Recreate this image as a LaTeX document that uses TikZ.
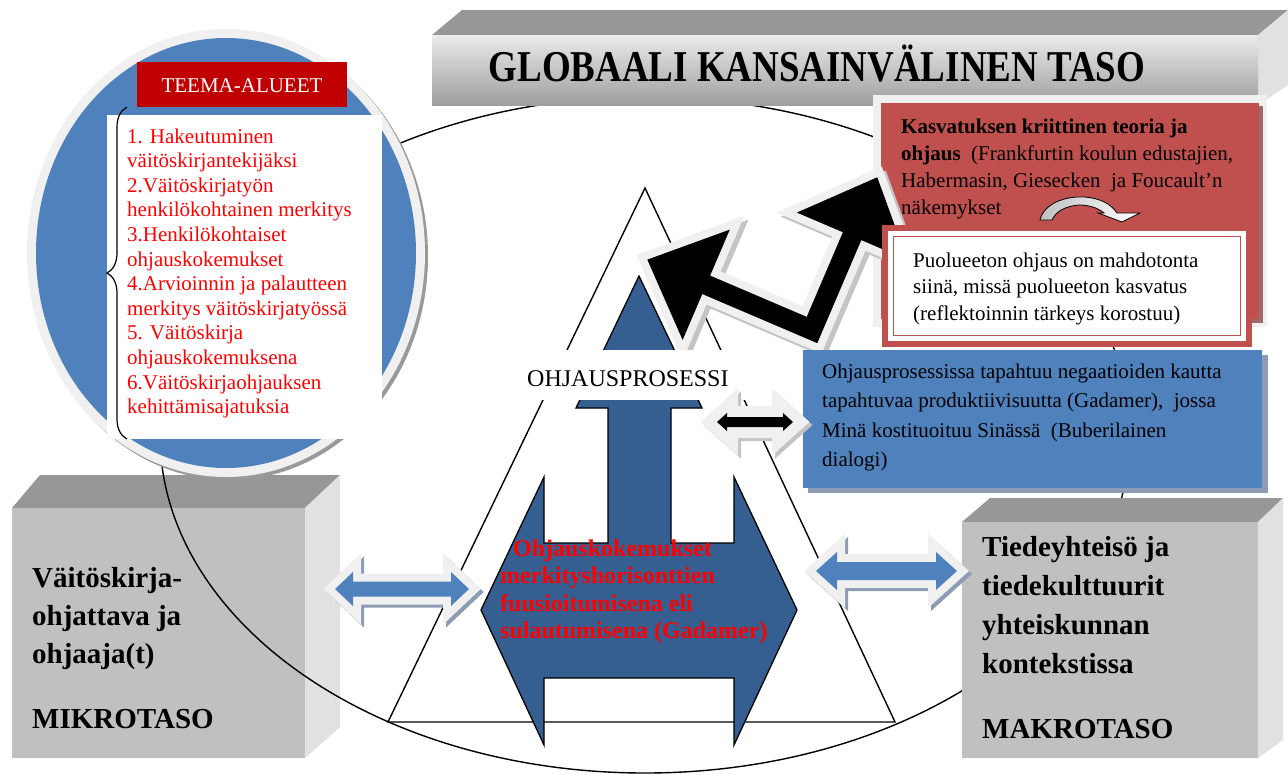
\documentclass[tikz,border=0pt]{standalone}
\usepackage{fontspec}
\usepackage{graphicx}
\setmainfont{Liberation Serif}
\usetikzlibrary{decorations.pathreplacing}
\definecolor{cblue}{HTML}{4F81BD}
\definecolor{cdblue}{HTML}{365F91}
\definecolor{cred}{HTML}{C0504D}
\definecolor{tred}{HTML}{C00000}
\definecolor{ring}{HTML}{F0F0F0}
\definecolor{bshadow}{HTML}{8D9BB3}
\definecolor{gshadow}{HTML}{C4C4C4}
\definecolor{gfront}{HTML}{C0C0C0}
\definecolor{gtop}{HTML}{979797}
\definecolor{gside}{HTML}{E1E1E1}
\definecolor{txtred}{HTML}{FF0000}
\definecolor{rshadow}{HTML}{9B6A69}
\newcommand{\fs}[2]{\fontsize{#1}{#2}\selectfont}
% double arrow path: cx cy halflength headlength headhalf shafthalf
\newcommand{\dblpath}[6]{(#1-#3,#2) -- (#1-#3+#4,#2-#5) -- (#1-#3+#4,#2-#6) -- (#1+#3-#4,#2-#6) -- (#1+#3-#4,#2-#5) -- (#1+#3,#2) -- (#1+#3-#4,#2+#5) -- (#1+#3-#4,#2+#6) -- (#1-#3+#4,#2+#6) -- (#1-#3+#4,#2+#5) -- cycle}
\newcommand{\bentpath}{(-10,-10) -- (115,-10) -- (115,-60) -- (179,0) -- (115,60) -- (115,10) -- (10,10) -- (10,102) -- (60,102) -- (0,166) -- (-60,102) -- (-10,102) -- cycle}
\tikzset{
  txt/.style={anchor=base west, inner sep=0pt, align=left},
  outl/.style={draw=ring, line width=16pt, line join=miter},
  outsh/.style={draw=bshadow, line width=16pt, line join=miter},
}
\begin{document}
\begin{tikzpicture}[x=1pt,y=-1pt]
\useasboundingbox[fill=white] (0,0) rectangle (1288,774);

% left grey box (micro level)
\fill[gtop] (12,508) -- (40,475) -- (340,475) -- (305,508) -- cycle;
\fill[gside] (305,508) -- (340,475) -- (340,727) -- (305,758) -- cycle;
\fill[gfront] (12,508) rectangle (305,758);
\node[txt, font=\bfseries\fs{29}{38}] (mikro) at (32,663) {Väitöskirja-\\ohjattava ja\\ohjaaja(t)};
\node[txt, font=\bfseries\fs{29}{38}] (mikrot) at (32,728) {MIKROTASO};

% big ellipse
\draw[line width=1.4pt] (645,435) ellipse [x radius=485, y radius=338];

% right grey box (macro level)
\fill[gtop] (962,522) -- (990,498) -- (1283,498) -- (1258,522) -- cycle;
\fill[gside] (1258,522) -- (1283,498) -- (1283,740) -- (1258,758) -- cycle;
\fill[gfront] (962,522) rectangle (1258,758);
\node[txt, font=\bfseries\fs{29}{38.7}] (makro) at (982,673) {Tiedeyhteisö ja\\tiedekulttuurit\\yhteiskunnan\\kontekstissa};
\node[txt, font=\bfseries\fs{29}{38}] (makrot) at (982,738) {MAKROTASO};

% banner
\fill[gtop] (432,35) -- (462,10) -- (1288,10) -- (1258,35) -- cycle;
\fill[gside] (1258,35) -- (1288,10) -- (1288,85) -- (1258,105) -- cycle;
\shade[top color=white!92!black, middle color=white, bottom color=black!38] (432,35) rectangle (1258,105);
\node[anchor=base, inner sep=0pt, font=\bfseries\fs{44}{44}] (title) at (817,81) {\scalebox{0.84}[1]{GLOBAALI KANSAINVÄLINEN TASO}};

% triangle
\draw[line width=1.4pt, fill=white] (645,188) -- (895,722) -- (388,722) -- cycle;

% central blue shape
\filldraw[fill=cdblue, draw=black, line width=1.3pt] (639,276) -- (702,408) -- (671,408) -- (671,543) -- (734,543) -- (734,477) -- (797,610) -- (734,745) -- (734,678) -- (544,678) -- (544,745) -- (481,610) -- (544,477) -- (544,543) -- (608,543) -- (608,408) -- (576,408) -- cycle;
\node[txt, font=\bfseries\fs{24}{27.5}, text=txtred] (fusion) at (500,638.5) {\hspace*{13pt}Ohjauskokemukset\\merkityshorisonttien\\fuusioitumisena eli\\sulautumisena (Gadamer)};

% left circle
\fill[black!40] (229,256) ellipse [x radius=199, y radius=224];
\fill[ring] (226,253) ellipse [x radius=199, y radius=224];
\fill[cblue] (226,253) ellipse [x radius=190, y radius=215];
\node[fill=tred, minimum width=210pt, minimum height=45pt, inner sep=0pt, anchor=north west] (teema) at (137,62) {};
\node[anchor=base, inner sep=0pt, text=white, font=\fs{21}{24}] (teemat) at (242,92) {TEEMA-ALUEET};
\fill[white] (107,115) rectangle (382,439);
\draw[line width=1.2pt, decorate, decoration={brace, amplitude=20pt}] (127,439) -- (127,107);
\node[txt, font=\fs{21}{24.6}, text=txtred] (list) at (127,413.6) {1. Hakeutuminen\\väitöskirjantekijäksi\\2.Väitöskirjatyön\\henkilökohtainen merkitys\\3.Henkilökohtaiset\\ohjauskokemukset\\4.Arvioinnin ja palautteen\\merkitys väitöskirjatyössä\\5. Väitöskirja\\ohjauskokemuksena\\6.Väitöskirjaohjauksen\\kehittämisajatuksia};

% critical theory box
\fill[ring] (873,95) rectangle (1267,327);
\fill[rshadow] (884,106) rectangle (1263,323);
\fill[cred] (881,103) rectangle (1259,319);
\node[txt, font=\fs{21}{27}] (krit) at (901,214) {\textbf{Kasvatuksen kriittinen teoria ja}\\\textbf{ohjaus}\ \ (Frankfurtin koulun edustajien,\\Habermasin, Giesecken\ \ ja Foucault’n\\näkemykset};
% small curved arrow
\shade[left color=black!25, right color=white, draw=black, line width=0.8pt]
  (1040,220) .. controls (1044,203) and (1066,196) .. (1084,197)
  .. controls (1100,198) and (1111,204) .. (1117,213)
  -- (1140,213) -- (1122,222) -- (1098,213) -- (1104,213)
  .. controls (1097,207) and (1087,205) .. (1079,205)
  .. controls (1066,206) and (1056,211) .. (1052,220) -- cycle;

% black bent double-headed arrow
\begin{scope}[shift={(816,334)}, x={(-0.92pt,0.393pt)}, y={(0.393pt,0.92pt)}]
  \draw[draw=gshadow, line width=16pt, line join=miter] \bentpath;
\end{scope}
\begin{scope}[shift={(812,330)}, x={(-0.92pt,0.393pt)}, y={(0.393pt,0.92pt)}]
  \draw[outl] \bentpath;
  \fill[black] \bentpath;
\end{scope}

% neutral guidance box
\fill[cred] (882,225) rectangle (1252,347);
\fill[white] (888,231) rectangle (1246,341);
\draw[cred, line width=1.5pt] (893.5,236.5) rectangle (1240.5,335.5);
\node[txt, font=\fs{21}{26.5}] (puol) at (913,320) {Puolueeton ohjaus on mahdotonta\\siinä, missä puolueeton kasvatus\\(reflektoinnin tärkeys korostuu)};

% blue dialogue box
\fill[bshadow] (808,355) rectangle (1268,493);
\fill[cblue] (803,350) rectangle (1262,488);
\node[txt, font=\fs{21}{29.5}] (dial) at (822,466.5) {Ohjausprosessissa tapahtuu negaatioiden kautta\\tapahtuvaa produktiivisuutta (Gadamer),\ \ jossa\\Minä kostituoituu Sinässä\ \ (Buberilainen\\dialogi)};

% process label
\fill[white] (515,350) rectangle (758,400);
\node[txt, font=\fs{24}{24}] (proc) at (527,386) {OHJAUSPROSESSI};

% small black double arrow
\draw[outsh, draw=gshadow, line width=22pt, shift={(3,3)}] \dblpath{755}{422}{38}{10}{9}{5};
\draw[outl, line width=22pt] \dblpath{755}{422}{38}{10}{9}{5};
\fill[black] \dblpath{755}{422}{38}{10}{9}{5};

% blue double arrows
\draw[outsh, shift={(3,3)}] \dblpath{402}{589}{67}{18}{17}{7.5};
\draw[outl] \dblpath{402}{589}{67}{18}{17}{7.5};
\fill[cblue] \dblpath{402}{589}{67}{18}{17}{7.5};

\draw[outsh, shift={(3,3)}] \dblpath{886.5}{571}{70.5}{21}{19}{9};
\draw[outl] \dblpath{886.5}{571}{70.5}{21}{19}{9};
\fill[cblue] \dblpath{886.5}{571}{70.5}{21}{19}{9};
\end{tikzpicture}
\end{document}
